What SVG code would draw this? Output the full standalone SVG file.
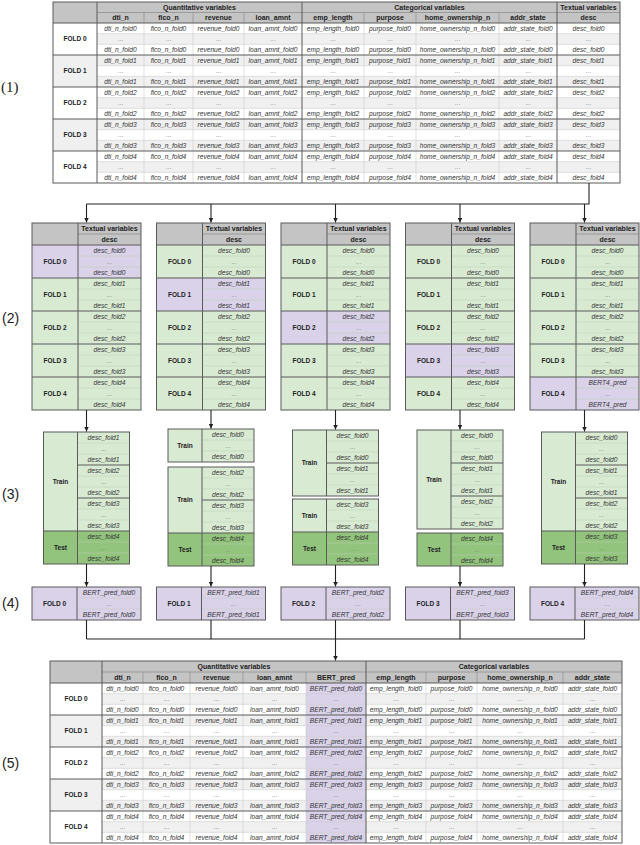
<svg xmlns="http://www.w3.org/2000/svg" width="640" height="845" viewBox="0 0 640 845">
<defs>
<style>
.h{font-family:"Liberation Sans",Arial,sans-serif;font-size:7px;font-weight:bold;fill:#222;text-anchor:middle}
.f{font-family:"Liberation Sans",Arial,sans-serif;font-size:6.5px;font-weight:bold;fill:#222;text-anchor:middle}
.d{font-family:"Liberation Sans",Arial,sans-serif;font-size:6.6px;font-style:italic;fill:#333;text-anchor:middle}
.e{font-family:"Liberation Sans",Arial,sans-serif;font-size:6.5px;fill:#888;text-anchor:middle}
.lb{font-family:"Liberation Sans",Arial,sans-serif;font-size:14px;fill:#222}
.lbs{font-family:"Liberation Serif","Times New Roman",serif;font-size:15px;fill:#222}
.hd{fill:#c4c4c4}
.bd{fill:#f0f0f0}
.g{fill:#d9ead3}
.p{fill:#d9d2e9}
.t{fill:#93c47d}
.tk{stroke:#5a5a5a;stroke-width:1;fill:none}
.md{stroke:#8a8a8a;stroke-width:0.7;fill:none}
.tn{stroke:#cfcfcf;stroke-width:0.6;fill:none}
.tg{stroke:#b8cfb0;stroke-width:0.5;fill:none}
.cn{stroke:#222;stroke-width:1.1;fill:none}
.ar{stroke:#222;stroke-width:1.1;fill:none;marker-end:url(#ah)}
</style>
<marker id="ah" viewBox="0 0 8 8" refX="8" refY="4" markerWidth="5" markerHeight="5" orient="auto" markerUnits="userSpaceOnUse">
<path d="M0,0 L8,4 L0,8 z" fill="#222"/>
</marker>
</defs>
<rect x="0" y="0" width="640" height="845" fill="#ffffff"/>

<g id="labels">
<text class="lbs" x="1" y="92">(1)</text>
<text class="lb" x="2" y="323">(2)</text>
<text class="lb" x="2" y="499">(3)</text>
<text class="lb" x="2" y="608">(4)</text>
<text class="lb" x="2" y="768">(5)</text>
</g>

<!-- (1) full table -->
<g id="table-full">
<rect x="53" y="2" width="567" height="181" fill="#fff"/>
<rect class="hd" x="53" y="2" width="567" height="21"/>
<rect class="bd" x="97" y="33.67" width="523" height="10.67"/>
<rect class="bd" x="97" y="55" width="523" height="10.67"/>
<rect class="bd" x="97" y="76.33" width="523" height="10.67"/>
<rect class="bd" x="97" y="97.67" width="523" height="10.67"/>
<rect class="bd" x="97" y="119" width="523" height="10.67"/>
<rect class="bd" x="97" y="140.33" width="523" height="10.67"/>
<rect class="bd" x="97" y="161.67" width="523" height="10.67"/>
<rect class="bd" x="53" y="55" width="44" height="32"/>
<rect class="bd" x="53" y="119" width="44" height="32"/>
<path class="tn" d="M97 33.67H620M97 44.33H620M97 65.67H620M97 76.33H620M97 97.67H620M97 108.33H620M97 129.67H620M97 140.33H620M97 161.67H620M97 172.33H620M144 12.5V183M193 12.5V183M244 12.5V183M364 12.5V183M416 12.5V183M499 12.5V183"/>
<path class="md" d="M97 12.5H620M144 12.5V23M193 12.5V23M244 12.5V23M364 12.5V23M416 12.5V23M499 12.5V23"/>
<path class="tk" d="M53 23H620M53 55H620M53 87H620M53 119H620M53 151H620M97 2V183M302 2V183M557 2V183"/>
<rect class="tk" x="53" y="2" width="567" height="181"/>
<text class="h" y="9.7"><tspan x="199.5">Quantitative variables</tspan><tspan x="429.5">Categorical variables</tspan><tspan x="588.5">Textual variables</tspan></text>
<text class="h" y="20.2"><tspan x="120.5">dti_n</tspan><tspan x="168.5">fico_n</tspan><tspan x="218.5">revenue</tspan><tspan x="273">loan_amnt</tspan><tspan x="333">emp_length</tspan><tspan x="390">purpose</tspan><tspan x="457.5">home_ownership_n</tspan><tspan x="528">addr_state</tspan><tspan x="588.5">desc</tspan></text>
<text class="f" x="75" y="41.3">FOLD 0</text>
<text class="f" x="75" y="73.3">FOLD 1</text>
<text class="f" x="75" y="105.3">FOLD 2</text>
<text class="f" x="75" y="137.3">FOLD 3</text>
<text class="f" x="75" y="169.3">FOLD 4</text>
<text class="d" y="30.6"><tspan x="120.5">dti_n_fold0</tspan><tspan x="168.5">fico_n_fold0</tspan><tspan x="218.5">revenue_fold0</tspan><tspan x="273">loan_amnt_fold0</tspan><tspan x="333">emp_length_fold0</tspan><tspan x="390">purpose_fold0</tspan><tspan x="457.5">home_ownership_n_fold0</tspan><tspan x="528">addr_state_fold0</tspan><tspan x="588.5">desc_fold0</tspan></text>
<text class="e" y="41.3"><tspan x="120.5">...</tspan><tspan x="168.5">...</tspan><tspan x="218.5">...</tspan><tspan x="273">...</tspan><tspan x="333">...</tspan><tspan x="390">...</tspan><tspan x="457.5">...</tspan><tspan x="528">...</tspan><tspan x="588.5">...</tspan></text>
<text class="d" y="51.9"><tspan x="120.5">dti_n_fold0</tspan><tspan x="168.5">fico_n_fold0</tspan><tspan x="218.5">revenue_fold0</tspan><tspan x="273">loan_amnt_fold0</tspan><tspan x="333">emp_length_fold0</tspan><tspan x="390">purpose_fold0</tspan><tspan x="457.5">home_ownership_n_fold0</tspan><tspan x="528">addr_state_fold0</tspan><tspan x="588.5">desc_fold0</tspan></text>
<text class="d" y="62.6"><tspan x="120.5">dti_n_fold1</tspan><tspan x="168.5">fico_n_fold1</tspan><tspan x="218.5">revenue_fold1</tspan><tspan x="273">loan_amnt_fold1</tspan><tspan x="333">emp_length_fold1</tspan><tspan x="390">purpose_fold1</tspan><tspan x="457.5">home_ownership_n_fold1</tspan><tspan x="528">addr_state_fold1</tspan><tspan x="588.5">desc_fold1</tspan></text>
<text class="e" y="73.3"><tspan x="120.5">...</tspan><tspan x="168.5">...</tspan><tspan x="218.5">...</tspan><tspan x="273">...</tspan><tspan x="333">...</tspan><tspan x="390">...</tspan><tspan x="457.5">...</tspan><tspan x="528">...</tspan><tspan x="588.5">...</tspan></text>
<text class="d" y="83.9"><tspan x="120.5">dti_n_fold1</tspan><tspan x="168.5">fico_n_fold1</tspan><tspan x="218.5">revenue_fold1</tspan><tspan x="273">loan_amnt_fold1</tspan><tspan x="333">emp_length_fold1</tspan><tspan x="390">purpose_fold1</tspan><tspan x="457.5">home_ownership_n_fold1</tspan><tspan x="528">addr_state_fold1</tspan><tspan x="588.5">desc_fold1</tspan></text>
<text class="d" y="94.6"><tspan x="120.5">dti_n_fold2</tspan><tspan x="168.5">fico_n_fold2</tspan><tspan x="218.5">revenue_fold2</tspan><tspan x="273">loan_amnt_fold2</tspan><tspan x="333">emp_length_fold2</tspan><tspan x="390">purpose_fold2</tspan><tspan x="457.5">home_ownership_n_fold2</tspan><tspan x="528">addr_state_fold2</tspan><tspan x="588.5">desc_fold2</tspan></text>
<text class="e" y="105.3"><tspan x="120.5">...</tspan><tspan x="168.5">...</tspan><tspan x="218.5">...</tspan><tspan x="273">...</tspan><tspan x="333">...</tspan><tspan x="390">...</tspan><tspan x="457.5">...</tspan><tspan x="528">...</tspan><tspan x="588.5">...</tspan></text>
<text class="d" y="115.9"><tspan x="120.5">dti_n_fold2</tspan><tspan x="168.5">fico_n_fold2</tspan><tspan x="218.5">revenue_fold2</tspan><tspan x="273">loan_amnt_fold2</tspan><tspan x="333">emp_length_fold2</tspan><tspan x="390">purpose_fold2</tspan><tspan x="457.5">home_ownership_n_fold2</tspan><tspan x="528">addr_state_fold2</tspan><tspan x="588.5">desc_fold2</tspan></text>
<text class="d" y="126.6"><tspan x="120.5">dti_n_fold3</tspan><tspan x="168.5">fico_n_fold3</tspan><tspan x="218.5">revenue_fold3</tspan><tspan x="273">loan_amnt_fold3</tspan><tspan x="333">emp_length_fold3</tspan><tspan x="390">purpose_fold3</tspan><tspan x="457.5">home_ownership_n_fold3</tspan><tspan x="528">addr_state_fold3</tspan><tspan x="588.5">desc_fold3</tspan></text>
<text class="e" y="137.3"><tspan x="120.5">...</tspan><tspan x="168.5">...</tspan><tspan x="218.5">...</tspan><tspan x="273">...</tspan><tspan x="333">...</tspan><tspan x="390">...</tspan><tspan x="457.5">...</tspan><tspan x="528">...</tspan><tspan x="588.5">...</tspan></text>
<text class="d" y="147.9"><tspan x="120.5">dti_n_fold3</tspan><tspan x="168.5">fico_n_fold3</tspan><tspan x="218.5">revenue_fold3</tspan><tspan x="273">loan_amnt_fold3</tspan><tspan x="333">emp_length_fold3</tspan><tspan x="390">purpose_fold3</tspan><tspan x="457.5">home_ownership_n_fold3</tspan><tspan x="528">addr_state_fold3</tspan><tspan x="588.5">desc_fold3</tspan></text>
<text class="d" y="158.6"><tspan x="120.5">dti_n_fold4</tspan><tspan x="168.5">fico_n_fold4</tspan><tspan x="218.5">revenue_fold4</tspan><tspan x="273">loan_amnt_fold4</tspan><tspan x="333">emp_length_fold4</tspan><tspan x="390">purpose_fold4</tspan><tspan x="457.5">home_ownership_n_fold4</tspan><tspan x="528">addr_state_fold4</tspan><tspan x="588.5">desc_fold4</tspan></text>
<text class="e" y="169.3"><tspan x="120.5">...</tspan><tspan x="168.5">...</tspan><tspan x="218.5">...</tspan><tspan x="273">...</tspan><tspan x="333">...</tspan><tspan x="390">...</tspan><tspan x="457.5">...</tspan><tspan x="528">...</tspan><tspan x="588.5">...</tspan></text>
<text class="d" y="179.9"><tspan x="120.5">dti_n_fold4</tspan><tspan x="168.5">fico_n_fold4</tspan><tspan x="218.5">revenue_fold4</tspan><tspan x="273">loan_amnt_fold4</tspan><tspan x="333">emp_length_fold4</tspan><tspan x="390">purpose_fold4</tspan><tspan x="457.5">home_ownership_n_fold4</tspan><tspan x="528">addr_state_fold4</tspan><tspan x="588.5">desc_fold4</tspan></text>
</g>

<!-- (2) textual tables -->
<g id="split-0" transform="translate(32,223)">
<rect class="hd" x="0" y="0" width="109" height="22"/>
<rect class="p" x="0" y="22" width="109" height="33"/>
<rect class="g" x="0" y="55" width="109" height="132"/>
<path class="tg" d="M46 33H109M46 44H109M46 66H109M46 77H109M46 99H109M46 110H109M46 132H109M46 143H109M46 165H109M46 176H109"/>
<path class="md" d="M46 11H109"/>
<path class="tk" d="M0 22H109M0 55H109M0 88H109M0 121H109M0 154H109M46 0V187"/>
<rect class="tk" x="0" y="0" width="109" height="187"/>
<text class="h" x="77.5" y="8.3">Textual variables</text>
<text class="h" x="77.5" y="19.3">desc</text>
<text class="f"><tspan x="23" y="40.8">FOLD 0</tspan><tspan x="23" y="73.8">FOLD 1</tspan><tspan x="23" y="106.8">FOLD 2</tspan><tspan x="23" y="139.8">FOLD 3</tspan><tspan x="23" y="172.8">FOLD 4</tspan></text>
<text class="d"><tspan x="77.5" y="29.8">desc_fold0</tspan><tspan x="77.5" y="51.8">desc_fold0</tspan><tspan x="77.5" y="62.8">desc_fold1</tspan><tspan x="77.5" y="84.8">desc_fold1</tspan><tspan x="77.5" y="95.8">desc_fold2</tspan><tspan x="77.5" y="117.8">desc_fold2</tspan><tspan x="77.5" y="128.8">desc_fold3</tspan><tspan x="77.5" y="150.8">desc_fold3</tspan><tspan x="77.5" y="161.8">desc_fold4</tspan><tspan x="77.5" y="183.8">desc_fold4</tspan></text>
<text class="e"><tspan x="77.5" y="40.8">...</tspan><tspan x="77.5" y="73.8">...</tspan><tspan x="77.5" y="106.8">...</tspan><tspan x="77.5" y="139.8">...</tspan><tspan x="77.5" y="172.8">...</tspan></text>
</g>

<g id="split-1" transform="translate(156.5,223)">
<rect class="hd" x="0" y="0" width="109" height="22"/>
<rect class="g" x="0" y="22" width="109" height="165"/>
<rect class="p" x="0" y="55" width="109" height="33"/>
<path class="tg" d="M46 33H109M46 44H109M46 66H109M46 77H109M46 99H109M46 110H109M46 132H109M46 143H109M46 165H109M46 176H109"/>
<path class="md" d="M46 11H109"/>
<path class="tk" d="M0 22H109M0 55H109M0 88H109M0 121H109M0 154H109M46 0V187"/>
<rect class="tk" x="0" y="0" width="109" height="187"/>
<text class="h" x="77.5" y="8.3">Textual variables</text>
<text class="h" x="77.5" y="19.3">desc</text>
<text class="f"><tspan x="23" y="40.8">FOLD 0</tspan><tspan x="23" y="73.8">FOLD 1</tspan><tspan x="23" y="106.8">FOLD 2</tspan><tspan x="23" y="139.8">FOLD 3</tspan><tspan x="23" y="172.8">FOLD 4</tspan></text>
<text class="d"><tspan x="77.5" y="29.8">desc_fold0</tspan><tspan x="77.5" y="51.8">desc_fold0</tspan><tspan x="77.5" y="62.8">desc_fold1</tspan><tspan x="77.5" y="84.8">desc_fold1</tspan><tspan x="77.5" y="95.8">desc_fold2</tspan><tspan x="77.5" y="117.8">desc_fold2</tspan><tspan x="77.5" y="128.8">desc_fold3</tspan><tspan x="77.5" y="150.8">desc_fold3</tspan><tspan x="77.5" y="161.8">desc_fold4</tspan><tspan x="77.5" y="183.8">desc_fold4</tspan></text>
<text class="e"><tspan x="77.5" y="40.8">...</tspan><tspan x="77.5" y="73.8">...</tspan><tspan x="77.5" y="106.8">...</tspan><tspan x="77.5" y="139.8">...</tspan><tspan x="77.5" y="172.8">...</tspan></text>
</g>

<g id="split-2" transform="translate(281,223)">
<rect class="hd" x="0" y="0" width="109" height="22"/>
<rect class="g" x="0" y="22" width="109" height="165"/>
<rect class="p" x="0" y="88" width="109" height="33"/>
<path class="tg" d="M46 33H109M46 44H109M46 66H109M46 77H109M46 99H109M46 110H109M46 132H109M46 143H109M46 165H109M46 176H109"/>
<path class="md" d="M46 11H109"/>
<path class="tk" d="M0 22H109M0 55H109M0 88H109M0 121H109M0 154H109M46 0V187"/>
<rect class="tk" x="0" y="0" width="109" height="187"/>
<text class="h" x="77.5" y="8.3">Textual variables</text>
<text class="h" x="77.5" y="19.3">desc</text>
<text class="f"><tspan x="23" y="40.8">FOLD 0</tspan><tspan x="23" y="73.8">FOLD 1</tspan><tspan x="23" y="106.8">FOLD 2</tspan><tspan x="23" y="139.8">FOLD 3</tspan><tspan x="23" y="172.8">FOLD 4</tspan></text>
<text class="d"><tspan x="77.5" y="29.8">desc_fold0</tspan><tspan x="77.5" y="51.8">desc_fold0</tspan><tspan x="77.5" y="62.8">desc_fold1</tspan><tspan x="77.5" y="84.8">desc_fold1</tspan><tspan x="77.5" y="95.8">desc_fold2</tspan><tspan x="77.5" y="117.8">desc_fold2</tspan><tspan x="77.5" y="128.8">desc_fold3</tspan><tspan x="77.5" y="150.8">desc_fold3</tspan><tspan x="77.5" y="161.8">desc_fold4</tspan><tspan x="77.5" y="183.8">desc_fold4</tspan></text>
<text class="e"><tspan x="77.5" y="40.8">...</tspan><tspan x="77.5" y="73.8">...</tspan><tspan x="77.5" y="106.8">...</tspan><tspan x="77.5" y="139.8">...</tspan><tspan x="77.5" y="172.8">...</tspan></text>
</g>

<g id="split-3" transform="translate(405.5,223)">
<rect class="hd" x="0" y="0" width="109" height="22"/>
<rect class="g" x="0" y="22" width="109" height="165"/>
<rect class="p" x="0" y="121" width="109" height="33"/>
<path class="tg" d="M46 33H109M46 44H109M46 66H109M46 77H109M46 99H109M46 110H109M46 132H109M46 143H109M46 165H109M46 176H109"/>
<path class="md" d="M46 11H109"/>
<path class="tk" d="M0 22H109M0 55H109M0 88H109M0 121H109M0 154H109M46 0V187"/>
<rect class="tk" x="0" y="0" width="109" height="187"/>
<text class="h" x="77.5" y="8.3">Textual variables</text>
<text class="h" x="77.5" y="19.3">desc</text>
<text class="f"><tspan x="23" y="40.8">FOLD 0</tspan><tspan x="23" y="73.8">FOLD 1</tspan><tspan x="23" y="106.8">FOLD 2</tspan><tspan x="23" y="139.8">FOLD 3</tspan><tspan x="23" y="172.8">FOLD 4</tspan></text>
<text class="d"><tspan x="77.5" y="29.8">desc_fold0</tspan><tspan x="77.5" y="51.8">desc_fold0</tspan><tspan x="77.5" y="62.8">desc_fold1</tspan><tspan x="77.5" y="84.8">desc_fold1</tspan><tspan x="77.5" y="95.8">desc_fold2</tspan><tspan x="77.5" y="117.8">desc_fold2</tspan><tspan x="77.5" y="128.8">desc_fold3</tspan><tspan x="77.5" y="150.8">desc_fold3</tspan><tspan x="77.5" y="161.8">desc_fold4</tspan><tspan x="77.5" y="183.8">desc_fold4</tspan></text>
<text class="e"><tspan x="77.5" y="40.8">...</tspan><tspan x="77.5" y="73.8">...</tspan><tspan x="77.5" y="106.8">...</tspan><tspan x="77.5" y="139.8">...</tspan><tspan x="77.5" y="172.8">...</tspan></text>
</g>

<g id="split-4" transform="translate(530,223)">
<rect class="hd" x="0" y="0" width="109" height="22"/>
<rect class="g" x="0" y="22" width="109" height="165"/>
<rect class="p" x="0" y="154" width="109" height="33"/>
<path class="tg" d="M46 33H109M46 44H109M46 66H109M46 77H109M46 99H109M46 110H109M46 132H109M46 143H109M46 165H109M46 176H109"/>
<path class="md" d="M46 11H109"/>
<path class="tk" d="M0 22H109M0 55H109M0 88H109M0 121H109M0 154H109M46 0V187"/>
<rect class="tk" x="0" y="0" width="109" height="187"/>
<text class="h" x="77.5" y="8.3">Textual variables</text>
<text class="h" x="77.5" y="19.3">desc</text>
<text class="f"><tspan x="23" y="40.8">FOLD 0</tspan><tspan x="23" y="73.8">FOLD 1</tspan><tspan x="23" y="106.8">FOLD 2</tspan><tspan x="23" y="139.8">FOLD 3</tspan><tspan x="23" y="172.8">FOLD 4</tspan></text>
<text class="d"><tspan x="77.5" y="29.8">desc_fold0</tspan><tspan x="77.5" y="51.8">desc_fold0</tspan><tspan x="77.5" y="62.8">desc_fold1</tspan><tspan x="77.5" y="84.8">desc_fold1</tspan><tspan x="77.5" y="95.8">desc_fold2</tspan><tspan x="77.5" y="117.8">desc_fold2</tspan><tspan x="77.5" y="128.8">desc_fold3</tspan><tspan x="77.5" y="150.8">desc_fold3</tspan><tspan x="77.5" y="161.8">BERT4_pred</tspan><tspan x="77.5" y="183.8">BERT4_pred</tspan></text>
<text class="e"><tspan x="77.5" y="40.8">...</tspan><tspan x="77.5" y="73.8">...</tspan><tspan x="77.5" y="106.8">...</tspan><tspan x="77.5" y="139.8">...</tspan><tspan x="77.5" y="172.8">...</tspan></text>
</g>

<!-- (3) train / test -->
<g id="tt-0" transform="translate(43.5,0)">
<rect class="g" x="0" y="432" width="86" height="99"/>
<rect class="t" x="0" y="531" width="86" height="33"/>
<path class="tg" d="M34 443H86M34 454H86M34 476H86M34 487H86M34 509H86M34 520H86M34 542H86M34 553H86"/>
<path class="tk" d="M34 465H86M34 498H86M0 531H86M34 432V564"/>
<rect class="tk" x="0" y="432" width="86" height="132"/>
<text class="f" x="17" y="483.8">Train</text>
<text class="f" x="17" y="549.8">Test</text>
<text class="d"><tspan x="60" y="439.8">desc_fold1</tspan><tspan x="60" y="461.8">desc_fold1</tspan><tspan x="60" y="472.8">desc_fold2</tspan><tspan x="60" y="494.8">desc_fold2</tspan><tspan x="60" y="505.8">desc_fold3</tspan><tspan x="60" y="527.8">desc_fold3</tspan><tspan x="60" y="538.8">desc_fold4</tspan><tspan x="60" y="560.8">desc_fold4</tspan></text>
<text class="e"><tspan x="60" y="450.8">...</tspan><tspan x="60" y="483.8">...</tspan><tspan x="60" y="516.8">...</tspan><tspan x="60" y="549.8">...</tspan></text>
</g>

<g id="tt-1" transform="translate(168,0)">
<rect class="g" x="0" y="429" width="86" height="33"/>
<path class="tg" d="M34 440H86M34 451H86"/>
<path class="tk" d="M34 429V462"/>
<rect class="tk" x="0" y="429" width="86" height="33"/>
<text class="f" x="17" y="447.8">Train</text>
<text class="d"><tspan x="60" y="436.8">desc_fold0</tspan><tspan x="60" y="458.8">desc_fold0</tspan></text>
<text class="e" x="60" y="447.8">...</text>
<rect class="g" x="0" y="467" width="86" height="66"/>
<rect class="t" x="0" y="533" width="86" height="33"/>
<path class="tg" d="M34 478H86M34 489H86M34 511H86M34 522H86M34 544H86M34 555H86"/>
<path class="tk" d="M34 500H86M0 533H86M34 467V566"/>
<rect class="tk" x="0" y="467" width="86" height="99"/>
<text class="f" x="17" y="502.3">Train</text>
<text class="f" x="17" y="551.8">Test</text>
<text class="d"><tspan x="60" y="474.8">desc_fold2</tspan><tspan x="60" y="496.8">desc_fold2</tspan><tspan x="60" y="507.8">desc_fold3</tspan><tspan x="60" y="529.8">desc_fold3</tspan><tspan x="60" y="540.8">desc_fold4</tspan><tspan x="60" y="562.8">desc_fold4</tspan></text>
<text class="e"><tspan x="60" y="485.8">...</tspan><tspan x="60" y="518.8">...</tspan><tspan x="60" y="551.8">...</tspan></text>
</g>

<g id="tt-2" transform="translate(292.5,0)">
<rect class="g" x="0" y="430" width="86" height="66"/>
<path class="tg" d="M34 441H86M34 452H86M34 474H86M34 485H86"/>
<path class="tk" d="M34 463H86M34 430V496"/>
<rect class="tk" x="0" y="430" width="86" height="66"/>
<text class="f" x="17" y="465.3">Train</text>
<text class="d"><tspan x="60" y="437.8">desc_fold0</tspan><tspan x="60" y="459.8">desc_fold0</tspan><tspan x="60" y="470.8">desc_fold1</tspan><tspan x="60" y="492.8">desc_fold1</tspan></text>
<text class="e"><tspan x="60" y="448.8">...</tspan><tspan x="60" y="481.8">...</tspan></text>
<rect class="g" x="0" y="499" width="86" height="33"/>
<rect class="t" x="0" y="532" width="86" height="33"/>
<path class="tg" d="M34 510H86M34 521H86M34 543H86M34 554H86"/>
<path class="tk" d="M0 532H86M34 499V565"/>
<rect class="tk" x="0" y="499" width="86" height="66"/>
<text class="f" x="17" y="517.8">Train</text>
<text class="f" x="17" y="550.8">Test</text>
<text class="d"><tspan x="60" y="506.8">desc_fold3</tspan><tspan x="60" y="528.8">desc_fold3</tspan><tspan x="60" y="539.8">desc_fold4</tspan><tspan x="60" y="561.8">desc_fold4</tspan></text>
<text class="e"><tspan x="60" y="517.8">...</tspan><tspan x="60" y="550.8">...</tspan></text>
</g>

<g id="tt-3" transform="translate(417,0)">
<rect class="g" x="0" y="430" width="86" height="99"/>
<path class="tg" d="M34 441H86M34 452H86M34 474H86M34 485H86M34 507H86M34 518H86"/>
<path class="tk" d="M34 463H86M34 496H86M34 430V529"/>
<rect class="tk" x="0" y="430" width="86" height="99"/>
<text class="f" x="17" y="481.8">Train</text>
<text class="d"><tspan x="60" y="437.8">desc_fold0</tspan><tspan x="60" y="459.8">desc_fold0</tspan><tspan x="60" y="470.8">desc_fold1</tspan><tspan x="60" y="492.8">desc_fold1</tspan><tspan x="60" y="503.8">desc_fold2</tspan><tspan x="60" y="525.8">desc_fold2</tspan></text>
<text class="e"><tspan x="60" y="448.8">...</tspan><tspan x="60" y="481.8">...</tspan><tspan x="60" y="514.8">...</tspan></text>
<rect class="t" x="0" y="533" width="86" height="33"/>
<path class="tg" d="M34 544H86M34 555H86"/>
<path class="tk" d="M34 533V566"/>
<rect class="tk" x="0" y="533" width="86" height="33"/>
<text class="f" x="17" y="551.8">Test</text>
<text class="d"><tspan x="60" y="540.8">desc_fold4</tspan><tspan x="60" y="562.8">desc_fold4</tspan></text>
<text class="e" x="60" y="551.8">...</text>
</g>

<g id="tt-4" transform="translate(541.5,0)">
<rect class="g" x="0" y="432" width="86" height="99"/>
<rect class="t" x="0" y="531" width="86" height="33"/>
<path class="tg" d="M34 443H86M34 454H86M34 476H86M34 487H86M34 509H86M34 520H86M34 542H86M34 553H86"/>
<path class="tk" d="M34 465H86M34 498H86M0 531H86M34 432V564"/>
<rect class="tk" x="0" y="432" width="86" height="132"/>
<text class="f" x="17" y="483.8">Train</text>
<text class="f" x="17" y="549.8">Test</text>
<text class="d"><tspan x="60" y="439.8">desc_fold0</tspan><tspan x="60" y="461.8">desc_fold0</tspan><tspan x="60" y="472.8">desc_fold1</tspan><tspan x="60" y="494.8">desc_fold1</tspan><tspan x="60" y="505.8">desc_fold2</tspan><tspan x="60" y="527.8">desc_fold2</tspan><tspan x="60" y="538.8">desc_fold3</tspan><tspan x="60" y="560.8">desc_fold3</tspan></text>
<text class="e"><tspan x="60" y="450.8">...</tspan><tspan x="60" y="483.8">...</tspan><tspan x="60" y="516.8">...</tspan><tspan x="60" y="549.8">...</tspan></text>
</g>

<!-- (4) predictions -->
<g id="pred-0" transform="translate(32,587)">
<rect class="p" x="0" y="0" width="109" height="33"/>
<path class="tn" d="M45 11H109M45 22H109"/>
<path class="tk" d="M45 0V33"/>
<rect class="tk" x="0" y="0" width="109" height="33"/>
<text class="f" x="22.5" y="19.3">FOLD 0</text>
<text class="d"><tspan x="77" y="7.8">BERT_pred_fold0</tspan><tspan x="77" y="29.8">BERT_pred_fold0</tspan></text>
<text class="e" x="77" y="18.8">...</text>
</g>
<g id="pred-1" transform="translate(156.5,587)">
<rect class="p" x="0" y="0" width="109" height="33"/>
<path class="tn" d="M45 11H109M45 22H109"/>
<path class="tk" d="M45 0V33"/>
<rect class="tk" x="0" y="0" width="109" height="33"/>
<text class="f" x="22.5" y="19.3">FOLD 1</text>
<text class="d"><tspan x="77" y="7.8">BERT_pred_fold1</tspan><tspan x="77" y="29.8">BERT_pred_fold1</tspan></text>
<text class="e" x="77" y="18.8">...</text>
</g>
<g id="pred-2" transform="translate(281,587)">
<rect class="p" x="0" y="0" width="109" height="33"/>
<path class="tn" d="M45 11H109M45 22H109"/>
<path class="tk" d="M45 0V33"/>
<rect class="tk" x="0" y="0" width="109" height="33"/>
<text class="f" x="22.5" y="19.3">FOLD 2</text>
<text class="d"><tspan x="77" y="7.8">BERT_pred_fold2</tspan><tspan x="77" y="29.8">BERT_pred_fold2</tspan></text>
<text class="e" x="77" y="18.8">...</text>
</g>
<g id="pred-3" transform="translate(405.5,587)">
<rect class="p" x="0" y="0" width="109" height="33"/>
<path class="tn" d="M45 11H109M45 22H109"/>
<path class="tk" d="M45 0V33"/>
<rect class="tk" x="0" y="0" width="109" height="33"/>
<text class="f" x="22.5" y="19.3">FOLD 3</text>
<text class="d"><tspan x="77" y="7.8">BERT_pred_fold3</tspan><tspan x="77" y="29.8">BERT_pred_fold3</tspan></text>
<text class="e" x="77" y="18.8">...</text>
</g>
<g id="pred-4" transform="translate(530,587)">
<rect class="p" x="0" y="0" width="109" height="33"/>
<path class="tn" d="M45 11H109M45 22H109"/>
<path class="tk" d="M45 0V33"/>
<rect class="tk" x="0" y="0" width="109" height="33"/>
<text class="f" x="22.5" y="19.3">FOLD 4</text>
<text class="d"><tspan x="77" y="7.8">BERT_pred_fold4</tspan><tspan x="77" y="29.8">BERT_pred_fold4</tspan></text>
<text class="e" x="77" y="18.8">...</text>
</g>

<!-- (5) merged table -->
<g id="table-merged">
<rect x="50" y="661" width="572" height="182" fill="#fff"/>
<rect class="hd" x="50" y="661" width="572" height="22"/>
<rect class="bd" x="102" y="693.67" width="520" height="10.67"/>
<rect class="bd" x="102" y="715" width="520" height="10.67"/>
<rect class="bd" x="102" y="736.33" width="520" height="10.67"/>
<rect class="bd" x="102" y="757.67" width="520" height="10.67"/>
<rect class="bd" x="102" y="779" width="520" height="10.67"/>
<rect class="bd" x="102" y="800.33" width="520" height="10.67"/>
<rect class="bd" x="102" y="821.67" width="520" height="10.67"/>
<rect class="bd" x="50" y="715" width="52" height="32"/>
<rect class="bd" x="50" y="779" width="52" height="32"/>
<rect class="p" x="306" y="683" width="60" height="160"/>
<path class="tn" d="M102 693.67H622M102 704.33H622M102 725.67H622M102 736.33H622M102 757.67H622M102 768.33H622M102 789.67H622M102 800.33H622M102 821.67H622M102 832.33H622M143 672V843M190 672V843M243 672V843M306 672V843M426 672V843M477 672V843M563 672V843"/>
<path class="md" d="M102 672H622M143 672V683M190 672V683M243 672V683M306 672V683M426 672V683M477 672V683M563 672V683"/>
<path class="tk" d="M50 683H622M50 715H622M50 747H622M50 779H622M50 811H622M102 661V843M366 661V843"/>
<rect class="tk" x="50" y="661" width="572" height="182"/>
<text class="h" y="668.9"><tspan x="234">Quantitative variables</tspan><tspan x="494">Categorical variables</tspan></text>
<text class="h" y="679.9"><tspan x="122.5">dti_n</tspan><tspan x="166.5">fico_n</tspan><tspan x="216.5">revenue</tspan><tspan x="274.5">loan_amnt</tspan><tspan x="336">BERT_pred</tspan><tspan x="396">emp_length</tspan><tspan x="451.5">purpose</tspan><tspan x="520">home_ownership_n</tspan><tspan x="592.5">addr_state</tspan></text>
<text class="f" x="76" y="701.3">FOLD 0</text>
<text class="f" x="76" y="733.3">FOLD 1</text>
<text class="f" x="76" y="765.3">FOLD 2</text>
<text class="f" x="76" y="797.3">FOLD 3</text>
<text class="f" x="76" y="829.3">FOLD 4</text>
<text class="d" y="690.6"><tspan x="122.5">dti_n_fold0</tspan><tspan x="166.5">fico_n_fold0</tspan><tspan x="216.5">revenue_fold0</tspan><tspan x="274.5">loan_amnt_fold0</tspan><tspan x="336">BERT_pred_fold0</tspan><tspan x="396">emp_length_fold0</tspan><tspan x="451.5">purpose_fold0</tspan><tspan x="520">home_ownership_n_fold0</tspan><tspan x="592.5">addr_state_fold0</tspan></text>
<text class="e" y="701.3"><tspan x="122.5">...</tspan><tspan x="166.5">...</tspan><tspan x="216.5">...</tspan><tspan x="274.5">...</tspan><tspan x="336">...</tspan><tspan x="396">...</tspan><tspan x="451.5">...</tspan><tspan x="520">...</tspan><tspan x="592.5">...</tspan></text>
<text class="d" y="711.9"><tspan x="122.5">dti_n_fold0</tspan><tspan x="166.5">fico_n_fold0</tspan><tspan x="216.5">revenue_fold0</tspan><tspan x="274.5">loan_amnt_fold0</tspan><tspan x="336">BERT_pred_fold0</tspan><tspan x="396">emp_length_fold0</tspan><tspan x="451.5">purpose_fold0</tspan><tspan x="520">home_ownership_n_fold0</tspan><tspan x="592.5">addr_state_fold0</tspan></text>
<text class="d" y="722.6"><tspan x="122.5">dti_n_fold1</tspan><tspan x="166.5">fico_n_fold1</tspan><tspan x="216.5">revenue_fold1</tspan><tspan x="274.5">loan_amnt_fold1</tspan><tspan x="336">BERT_pred_fold1</tspan><tspan x="396">emp_length_fold1</tspan><tspan x="451.5">purpose_fold1</tspan><tspan x="520">home_ownership_n_fold1</tspan><tspan x="592.5">addr_state_fold1</tspan></text>
<text class="e" y="733.3"><tspan x="122.5">...</tspan><tspan x="166.5">...</tspan><tspan x="216.5">...</tspan><tspan x="274.5">...</tspan><tspan x="336">...</tspan><tspan x="396">...</tspan><tspan x="451.5">...</tspan><tspan x="520">...</tspan><tspan x="592.5">...</tspan></text>
<text class="d" y="743.9"><tspan x="122.5">dti_n_fold1</tspan><tspan x="166.5">fico_n_fold1</tspan><tspan x="216.5">revenue_fold1</tspan><tspan x="274.5">loan_amnt_fold1</tspan><tspan x="336">BERT_pred_fold1</tspan><tspan x="396">emp_length_fold1</tspan><tspan x="451.5">purpose_fold1</tspan><tspan x="520">home_ownership_n_fold1</tspan><tspan x="592.5">addr_state_fold1</tspan></text>
<text class="d" y="754.6"><tspan x="122.5">dti_n_fold2</tspan><tspan x="166.5">fico_n_fold2</tspan><tspan x="216.5">revenue_fold2</tspan><tspan x="274.5">loan_amnt_fold2</tspan><tspan x="336">BERT_pred_fold2</tspan><tspan x="396">emp_length_fold2</tspan><tspan x="451.5">purpose_fold2</tspan><tspan x="520">home_ownership_n_fold2</tspan><tspan x="592.5">addr_state_fold2</tspan></text>
<text class="e" y="765.3"><tspan x="122.5">...</tspan><tspan x="166.5">...</tspan><tspan x="216.5">...</tspan><tspan x="274.5">...</tspan><tspan x="336">...</tspan><tspan x="396">...</tspan><tspan x="451.5">...</tspan><tspan x="520">...</tspan><tspan x="592.5">...</tspan></text>
<text class="d" y="775.9"><tspan x="122.5">dti_n_fold2</tspan><tspan x="166.5">fico_n_fold2</tspan><tspan x="216.5">revenue_fold2</tspan><tspan x="274.5">loan_amnt_fold2</tspan><tspan x="336">BERT_pred_fold2</tspan><tspan x="396">emp_length_fold2</tspan><tspan x="451.5">purpose_fold2</tspan><tspan x="520">home_ownership_n_fold2</tspan><tspan x="592.5">addr_state_fold2</tspan></text>
<text class="d" y="786.6"><tspan x="122.5">dti_n_fold3</tspan><tspan x="166.5">fico_n_fold3</tspan><tspan x="216.5">revenue_fold3</tspan><tspan x="274.5">loan_amnt_fold3</tspan><tspan x="336">BERT_pred_fold3</tspan><tspan x="396">emp_length_fold3</tspan><tspan x="451.5">purpose_fold3</tspan><tspan x="520">home_ownership_n_fold3</tspan><tspan x="592.5">addr_state_fold3</tspan></text>
<text class="e" y="797.3"><tspan x="122.5">...</tspan><tspan x="166.5">...</tspan><tspan x="216.5">...</tspan><tspan x="274.5">...</tspan><tspan x="336">...</tspan><tspan x="396">...</tspan><tspan x="451.5">...</tspan><tspan x="520">...</tspan><tspan x="592.5">...</tspan></text>
<text class="d" y="807.9"><tspan x="122.5">dti_n_fold3</tspan><tspan x="166.5">fico_n_fold3</tspan><tspan x="216.5">revenue_fold3</tspan><tspan x="274.5">loan_amnt_fold3</tspan><tspan x="336">BERT_pred_fold3</tspan><tspan x="396">emp_length_fold3</tspan><tspan x="451.5">purpose_fold3</tspan><tspan x="520">home_ownership_n_fold3</tspan><tspan x="592.5">addr_state_fold3</tspan></text>
<text class="d" y="818.6"><tspan x="122.5">dti_n_fold4</tspan><tspan x="166.5">fico_n_fold4</tspan><tspan x="216.5">revenue_fold4</tspan><tspan x="274.5">loan_amnt_fold4</tspan><tspan x="336">BERT_pred_fold4</tspan><tspan x="396">emp_length_fold4</tspan><tspan x="451.5">purpose_fold4</tspan><tspan x="520">home_ownership_n_fold4</tspan><tspan x="592.5">addr_state_fold4</tspan></text>
<text class="e" y="829.3"><tspan x="122.5">...</tspan><tspan x="166.5">...</tspan><tspan x="216.5">...</tspan><tspan x="274.5">...</tspan><tspan x="336">...</tspan><tspan x="396">...</tspan><tspan x="451.5">...</tspan><tspan x="520">...</tspan><tspan x="592.5">...</tspan></text>
<text class="d" y="839.9"><tspan x="122.5">dti_n_fold4</tspan><tspan x="166.5">fico_n_fold4</tspan><tspan x="216.5">revenue_fold4</tspan><tspan x="274.5">loan_amnt_fold4</tspan><tspan x="336">BERT_pred_fold4</tspan><tspan x="396">emp_length_fold4</tspan><tspan x="451.5">purpose_fold4</tspan><tspan x="520">home_ownership_n_fold4</tspan><tspan x="592.5">addr_state_fold4</tspan></text>
</g>

<g id="connectors">
<path class="cn" d="M589 183V204H86.5"/>
<line class="ar" x1="86.5" y1="204" x2="86.5" y2="222.5"/>
<line class="ar" x1="211" y1="204" x2="211" y2="222.5"/>
<line class="ar" x1="335.5" y1="204" x2="335.5" y2="222.5"/>
<line class="ar" x1="460" y1="204" x2="460" y2="222.5"/>
<line class="ar" x1="584.5" y1="204" x2="584.5" y2="222.5"/>
<line class="ar" x1="86.5" y1="410" x2="86.5" y2="431.5"/>
<line class="ar" x1="211" y1="410" x2="211" y2="428.5"/>
<line class="ar" x1="335.5" y1="410" x2="335.5" y2="429.5"/>
<line class="ar" x1="460" y1="410" x2="460" y2="429.5"/>
<line class="ar" x1="584.5" y1="410" x2="584.5" y2="431.5"/>
<line class="ar" x1="86.5" y1="564" x2="86.5" y2="586.5"/>
<line class="ar" x1="211" y1="566" x2="211" y2="586.5"/>
<line class="ar" x1="335.5" y1="565" x2="335.5" y2="586.5"/>
<line class="ar" x1="460" y1="566" x2="460" y2="586.5"/>
<line class="ar" x1="584.5" y1="564" x2="584.5" y2="586.5"/>
<path class="cn" d="M86.5 620V639M211 620V639M335.5 620V639M460 620V639M584.5 620V639M86.5 639H584.5"/>
<line class="ar" x1="335.5" y1="639" x2="335.5" y2="660.5"/>
</g>
</svg>
